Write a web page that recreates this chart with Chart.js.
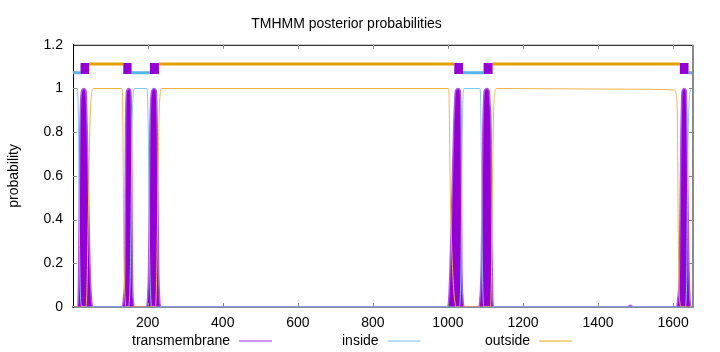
<!DOCTYPE html>
<html>
<head>
<meta charset="utf-8">
<script src="https://cdn.jsdelivr.net/npm/chart.js@4/dist/chart.umd.min.js"></script>
<style>
  html, body { margin: 0; padding: 0; background: #fff; }
  #wrap { width: 720px; height: 352px; }
</style>
</head>
<body>
<div id="wrap"><canvas id="tmChart" width="720" height="352"></canvas></div>
<script>
// ── Data ─────────────────────────────────────────────────────────
const seqLength = 1653;

const xTicks = [200, 400, 600, 800, 1000, 1200, 1400, 1600];
const yTicks = [0, 0.2, 0.4, 0.6, 0.8, 1, 1.2];
const yTickLabels = ['0', '0.2', '0.4', '0.6', '0.8', '1', '1.2'];

// transmembrane posterior
const tmPos  = [1, 14, 15.5, 17, 19.5, 24, 30, 35.5, 39, 42, 46, 49, 52, 56,
                133, 136, 139.5, 141, 144, 149.5, 155, 157, 159, 162, 164,
                197, 200, 202.7, 206, 211, 217, 223, 225.6, 229, 232, 235,
                999, 1002, 1006, 1010, 1015, 1020, 1027, 1033, 1035, 1037, 1040, 1043,
                1082, 1085, 1089, 1093, 1097, 1104, 1110, 1112, 1115, 1117, 1119, 1122,
                1478, 1486, 1494,
                1608, 1612, 1617, 1621, 1624, 1630, 1635, 1637, 1642, 1645, 1648, 1653];
const tmProb = [0, 0, 0.1, 0.35, 0.8, 0.99, 1, 0.99, 0.8, 0.55, 0.2, 0.07, 0.01, 0,
                0, 0.05, 0.2, 0.8, 0.99, 1, 0.99, 0.8, 0.2, 0.02, 0,
                0, 0.05, 0.2, 0.8, 0.99, 1, 0.99, 0.8, 0.2, 0.03, 0,
                0, 0.03, 0.2, 0.45, 0.8, 0.99, 1, 0.99, 0.8, 0.2, 0.04, 0,
                0, 0.03, 0.2, 0.8, 0.99, 1, 0.99, 0.93, 0.8, 0.3, 0.06, 0,
                0, 0.008, 0,
                0, 0.03, 0.2, 0.8, 0.99, 1, 0.99, 0.8, 0.2, 0.03, 0, 0];

// inside posterior
const inPos  = [1, 12, 14, 16, 18, 20, 23, 26,
                148, 152, 155, 158, 161, 165, 198, 200, 202, 204, 206, 209, 212,
                1030, 1034, 1036, 1038, 1040, 1043, 1085, 1087, 1089, 1091, 1093, 1096,
                1632, 1636, 1638, 1641, 1645, 1650, 1653];
const inProb = [1, 1, 0.97, 0.75, 0.35, 0.1, 0.01, 0,
                0, 0.05, 0.3, 0.8, 0.96, 1, 1, 0.95, 0.75, 0.4, 0.15, 0.02, 0,
                0, 0.1, 0.4, 0.8, 0.95, 1, 1, 0.96, 0.7, 0.3, 0.08, 0,
                0, 0.1, 0.5, 0.85, 0.98, 1, 1];

// outside posterior
const outPos  = [1, 36, 39, 42, 45, 48, 51, 55, 131, 133, 135, 137, 140, 143,
                 221, 224, 227, 230, 233, 237,
                 1001, 1003, 1006, 1009, 1013, 1018, 1022,
                 1113, 1116, 1119, 1122, 1125, 1129,
                 1478, 1604, 1607, 1611, 1613, 1615, 1618, 1622, 1653];
const outProb = [0, 0, 0.15, 0.45, 0.75, 0.92, 0.98, 1, 1, 0.97, 0.6, 0.2, 0.03, 0,
                 0, 0.15, 0.5, 0.85, 0.97, 1,
                 1, 0.96, 0.55, 0.33, 0.15, 0.03, 0,
                 0, 0.15, 0.6, 0.9, 0.98, 1,
                 0.997, 0.993, 0.98, 0.9, 0.5, 0.15, 0.02, 0, 0];

// predicted topology (i = inside, M = membrane, o = outside)
const segStart = [1, 21, 45, 135, 158, 206, 231, 1017, 1041, 1095, 1120, 1618, 1642];
const segEnd   = [20, 44, 134, 157, 205, 230, 1016, 1040, 1094, 1119, 1617, 1641, 1653];
const segType  = ['i', 'M', 'o', 'M', 'i', 'M', 'o', 'M', 'i', 'M', 'o', 'M', 'i'];
const topoLevel = { i: 1.072, o: 1.112, M: 1.092 };

// ── helpers ──────────────────────────────────────────────────────
const pts = (xs, ys) => xs.map((x, i) => ({ x, y: ys[i] }));

function topoPoints(kind) {
  const out = [];
  segType.forEach((t, i) => {
    if (t !== kind) return;
    const lo = kind === 'M' ? segStart[i] : segStart[i] - 1;
    const hi = kind === 'M' ? segEnd[i] : segEnd[i] + 1;
    out.push({ x: lo, y: topoLevel[kind] }, { x: hi, y: topoLevel[kind] }, { x: hi, y: null });
  });
  return out;
}

const FONT = "'Liberation Sans', Arial, Helvetica, sans-serif";
Chart.defaults.font.family = FONT;
Chart.defaults.font.size = 14;
Chart.defaults.color = '#000';

// inward ticks on all four sides + top/right frame + gnuplot-ish key
const framePlugin = {
  id: 'frame',
  afterDatasetsDraw(chart) {
    const { ctx, chartArea: a, scales: { x, y } } = chart;
    ctx.save();
    ctx.strokeStyle = '#000';
    ctx.lineWidth = 1;
    ctx.beginPath();
    ctx.moveTo(a.left, a.top + 0.5);
    ctx.lineTo(a.right, a.top + 0.5);
    ctx.stroke();
    ctx.strokeStyle = '#8a8a8a';
    ctx.lineWidth = 2;
    ctx.beginPath();
    ctx.moveTo(a.right, a.top);
    ctx.lineTo(a.right, a.bottom);
    ctx.stroke();

    ctx.strokeStyle = '#8a8a8a';
    ctx.lineWidth = 1;
    ctx.beginPath();
    xTicks.forEach(v => {
      const px = Math.round(x.getPixelForValue(v)) + 0.5;
      ctx.moveTo(px, a.bottom); ctx.lineTo(px, a.bottom - 4);
      ctx.moveTo(px, a.top);    ctx.lineTo(px, a.top + 4);
    });
    yTicks.slice(1, -1).forEach(v => {
      const py = Math.round(y.getPixelForValue(v)) + 0.5;
      ctx.moveTo(a.left, py);  ctx.lineTo(a.left + 4, py);
      ctx.moveTo(a.right, py); ctx.lineTo(a.right - 4, py);
    });
    ctx.stroke();
    ctx.restore();
  },
  afterDraw(chart) {
    const { ctx } = chart;
    const key = [
      { text: 'transmembrane', x: 132, color: '#c56cef' },
      { text: 'inside',        x: 342, color: '#9fd6f1' },
      { text: 'outside',       x: 485, color: '#f1c463' }
    ];
    ctx.save();
    ctx.font = '14px ' + FONT;
    ctx.textBaseline = 'middle';
    ctx.fillStyle = '#000';
    key.forEach(k => {
      ctx.fillText(k.text, k.x, 341);
      const w = ctx.measureText(k.text).width;
      ctx.strokeStyle = k.color;
      ctx.lineWidth = 1.5;
      ctx.beginPath();
      ctx.moveTo(k.x + w + 9, 341);
      ctx.lineTo(k.x + w + 42, 341);
      ctx.stroke();
    });
    ctx.restore();
  }
};

new Chart(document.getElementById('tmChart'), {
  type: 'line',
  data: {
    datasets: [
      { label: 'topology M', data: topoPoints('M'), order: 0,
        borderColor: '#9400d3', borderWidth: 11, borderCapStyle: 'butt', fill: false, spanGaps: false },
      { label: 'topology o', data: topoPoints('o'), order: 1,
        borderColor: '#e69f00', borderWidth: 3, fill: false, spanGaps: false },
      { label: 'topology i', data: topoPoints('i'), order: 1,
        borderColor: '#56b4e9', borderWidth: 3, fill: false, spanGaps: false },
      { label: 'outside', data: pts(outPos, outProb), order: 2,
        borderColor: '#eeb54c', borderWidth: 1, fill: false, cubicInterpolationMode: 'monotone' },
      { label: 'inside', data: pts(inPos, inProb), order: 3,
        borderColor: '#80c9ee', borderWidth: 1, fill: false, cubicInterpolationMode: 'monotone' },
      { label: 'transmembrane', data: pts(tmPos, tmProb), order: 4,
        borderColor: '#b256e6', borderWidth: 1.5, backgroundColor: '#9400d3', fill: 'origin',
        cubicInterpolationMode: 'monotone' }
    ]
  },
  options: {
    responsive: false,
    animation: false,
    events: [],
    elements: { point: { radius: 0 }, line: { tension: 0 } },
    layout: { padding: { left: 0, right: 27, top: 0, bottom: 20 } },
    plugins: {
      legend: { display: false },
      tooltip: { enabled: false },
      title: {
        display: true,
        text: 'TMHMM posterior probabilities',
        color: '#000',
        font: { size: 14, weight: 'normal' },
        padding: { top: 16, bottom: 12 }
      }
    },
    scales: {
      x: {
        type: 'linear',
        min: 1,
        max: seqLength,
        grid: { display: false, drawTicks: false, tickLength: 0 },
        border: { display: true, color: '#7d8f9b', width: 2 },
        afterBuildTicks: s => { s.ticks = xTicks.map(v => ({ value: v })); },
        afterFit: s => { s.height = 25; },
        ticks: { padding: 8, maxRotation: 0, callback: v => String(v) }
      },
      y: {
        min: 0,
        max: 1.2,
        grid: { display: false, drawTicks: false, tickLength: 0 },
        border: { display: true, color: '#000', width: 1 },
        afterBuildTicks: s => { s.ticks = yTicks.map(v => ({ value: v })); },
        afterFit: s => { s.width = 73; },
        ticks: { padding: 10, callback: (v, i) => yTickLabels[i] },
        title: { display: true, text: 'probability', color: '#000',
                 font: { size: 14 }, padding: { top: 6, bottom: 0 } }
      }
    }
  },
  plugins: [framePlugin]
});
</script>
</body>
</html>
